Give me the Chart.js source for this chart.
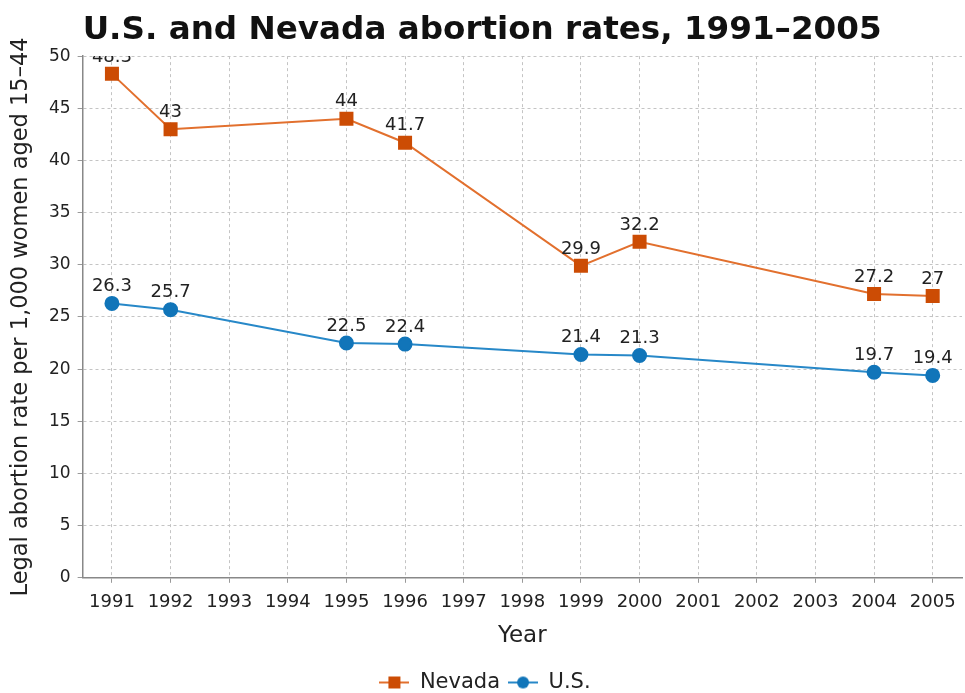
<!DOCTYPE html>
<html>
<head>
<meta charset="utf-8">
<script src="https://cdn.jsdelivr.net/npm/chart.js@4"></script>
<style>
  html, body { margin: 0; padding: 0; background: #fff; }
  #wrap { width: 965px; height: 693px; }
</style>
</head>
<body>
<div id="wrap"><canvas id="c" width="965" height="693"></canvas></div>
<script>
const years = ['1991', '1992', '1993', '1994', '1995', '1996', '1997', '1998',
  '1999', '2000', '2001', '2002', '2003', '2004', '2005'];
const nevada = [48.3, 43, null, null, 44, 41.7, null, null, 29.9, 32.2, null, null, null, 27.2, 27];
const us = [26.3, 25.7, null, null, 22.5, 22.4, null, null, 21.4, 21.3, null, null, null, 19.7, 19.4];

const orange = '#cc4c04';
const orangeLine = '#e2702e';
const blue = '#1175b9';
const blueLine = '#2788c8';
const font = 'DejaVu Sans';

// legend swatch: short line with the marker on it
function swatch(line, fill, shape) {
  const c = document.createElement('canvas');
  c.width = 30; c.height = 16;
  const g = c.getContext('2d');
  g.strokeStyle = line; g.lineWidth = 2;
  g.beginPath(); g.moveTo(0, 8); g.lineTo(30, 8); g.stroke();
  g.fillStyle = fill;
  if (shape === 'rect') g.fillRect(9, 2, 12, 12);
  else { g.beginPath(); g.arc(15, 8, 6, 0, Math.PI * 2); g.fill(); }
  return c;
}

const valueLabels = {
  id: 'valueLabels',
  afterDatasetsDraw(chart) {
    const ctx = chart.ctx;
    const a = chart.chartArea;
    ctx.save();
    ctx.beginPath();
    ctx.rect(a.left, a.top, a.right - a.left, a.bottom - a.top);
    ctx.clip();
    ctx.font = '18px ' + font;
    ctx.fillStyle = '#222';
    ctx.textAlign = 'center';
    ctx.textBaseline = 'bottom';
    chart.data.datasets.forEach((ds, i) => {
      chart.getDatasetMeta(i).data.forEach((pt, j) => {
        const v = ds.data[j];
        if (v === null) return;
        ctx.fillText(String(v), pt.x, pt.y - 8);
      });
    });
    ctx.restore();
  }
};

new Chart(document.getElementById('c'), {
  type: 'line',
  data: {
    labels: years,
    datasets: [
      {
        label: 'Nevada',
        data: nevada,
        borderColor: orangeLine,
        backgroundColor: orange,
        pointBorderColor: orange,
        borderWidth: 2,
        pointStyle: 'rect',
        pointRadius: 8.5,
        pointHoverRadius: 8.5,
        spanGaps: true,
        tension: 0
      },
      {
        label: 'U.S.',
        data: us,
        borderColor: blueLine,
        backgroundColor: blue,
        pointBorderColor: blue,
        borderWidth: 2,
        pointStyle: 'circle',
        pointRadius: 6.5,
        pointHoverRadius: 6.5,
        spanGaps: true,
        tension: 0
      }
    ]
  },
  options: {
    responsive: false,
    animation: false,
    layout: { autoPadding: false, padding: { left: 8, right: 3, bottom: -10 } },
    plugins: {
      title: {
        display: true,
        text: 'U.S. and Nevada abortion rates, 1991–2005',
        align: 'start',
        fullSize: false,
        color: '#111',
        font: { family: font, size: 32.6, weight: 'bold' },
        padding: { top: 11, bottom: 6 }
      },
      legend: {
        position: 'bottom',
        labels: {
          color: '#222',
          font: { family: font, size: 21 },
          usePointStyle: true,
          pointStyleWidth: 30,
          padding: 8,
          generateLabels(chart) {
            return chart.data.datasets.map((ds, i) => ({
              text: ds.label,
              fontColor: '#222',
              datasetIndex: i,
              pointStyle: swatch(ds.borderColor, ds.backgroundColor, i === 0 ? 'rect' : 'circle'),
              hidden: false,
              lineWidth: 0
            }));
          }
        }
      },
      tooltip: { enabled: false }
    },
    scales: {
      x: {
        offset: true,
        grid: {
          offset: false,
          color: '#c4c4c4',
          tickLength: 5,
          tickColor: '#999'
        },
        border: { display: true, color: '#888', dash: [3, 3], width: 1.5 },
        ticks: {
          color: '#222',
          font: { family: font, size: 18 },
          maxRotation: 0,
          autoSkip: false,
          padding: 9
        },
        title: {
          display: true,
          text: 'Year',
          color: '#222',
          font: { family: font, size: 23 },
          padding: { top: 0, bottom: 14 }
        }
      },
      y: {
        min: 0,
        max: 50,
        grid: {
          color: '#c4c4c4',
          tickLength: 5,
          tickColor: '#999'
        },
        border: { display: true, color: '#888', dash: [3, 3], width: 1.5 },
        ticks: {
          stepSize: 5,
          color: '#222',
          font: { family: font, size: 17 },
          padding: 7
        },
        title: {
          display: true,
          text: 'Legal abortion rate per 1,000 women aged 15–44',
          color: '#222',
          font: { family: font, size: 22.5 },
          padding: { top: 0, bottom: 7 }
        }
      }
    }
  },
  plugins: [valueLabels]
});
</script>
</body>
</html>
